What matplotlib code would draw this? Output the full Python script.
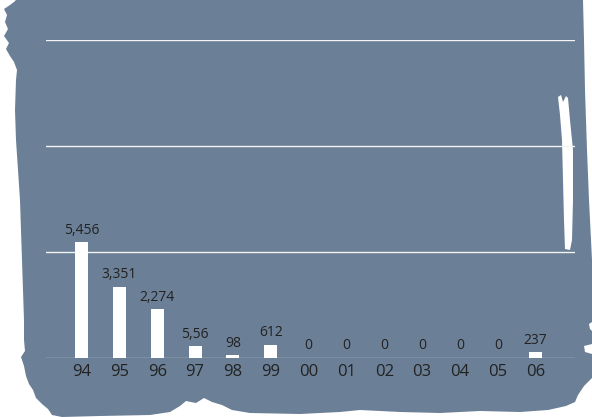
import matplotlib
matplotlib.use("Agg")
import matplotlib.pyplot as plt
from matplotlib.patches import Polygon

# Yearly counts
years = ["94", "95", "96", "97", "98", "99", "00", "01", "02", "03", "04", "05", "06"]
counts = [5456, 3351, 2274, 556, 98, 612, 0, 0, 0, 0, 0, 0, 237]
count_labels = ["5,456", "3,351", "2,274", "5,56", "98", "612",
                "0", "0", "0", "0", "0", "0", "237"]
y_ticks = [0, 5000, 10000, 15000]

W, H = 592, 417
BG = "#6b7f96"
INK = "#222222"

plt.rcParams["font.family"] = ["Open Sans", "DejaVu Sans"]

fig = plt.figure(figsize=(W / 100, H / 100), dpi=100)
fig.patch.set_facecolor("white")

# brush-stroke backdrop, outlined in pixel coordinates (origin top-left)
brush = [
    (16, 0), (583, 0), (584, 40), (585, 90), (587, 150), (589, 200), (591, 240),
    (592, 260), (592, 322), (589, 324), (590, 329), (592, 331), (592, 344),
    (584, 346), (585, 352), (592, 354), (592, 378), (584, 386), (578, 395),
    (575, 402), (566, 406), (548, 410), (520, 412), (480, 411), (440, 413),
    (400, 412), (360, 410), (340, 412), (300, 414), (250, 413), (232, 410),
    (222, 405), (212, 402), (204, 398), (196, 403), (186, 401), (180, 406),
    (170, 412), (150, 415), (100, 416), (62, 417), (52, 415), (48, 409),
    (42, 404), (36, 398), (33, 390), (29, 384), (26, 376), (24, 366),
    (21, 357), (25, 351), (24, 340), (24, 320), (23, 290), (22, 260),
    (21, 230), (20, 200), (18, 170), (16, 140), (15, 110), (16, 80),
    (17, 70), (14, 62), (10, 56), (6, 49), (9, 43), (4, 36), (8, 29),
    (5, 22), (7, 15), (4, 9), (10, 5), (14, 2),
]
fig.add_artist(Polygon([(x / W, 1 - y / H) for x, y in brush], closed=True,
                       transform=fig.transFigure, facecolor=BG, edgecolor="none",
                       zorder=-2))

# pale streak near the right edge of the stroke
streak = [(558, 97), (561, 95), (563, 102), (566, 96), (568, 98), (570, 120),
          (573, 150), (573, 200), (572, 240), (570, 250), (565, 249),
          (564, 220), (563, 180), (562, 140), (560, 115)]
fig.add_artist(Polygon([(x / W, 1 - y / H) for x, y in streak], closed=True,
                       transform=fig.transFigure, facecolor="white", edgecolor="none",
                       zorder=-1))

ax = fig.add_axes([46 / W, (H - 357.5) / H, (575 - 46) / W, (357.5 - 40) / H])
ax.patch.set_visible(False)

x = list(range(len(years)))
ax.set_xlim(-0.94, len(years) - 1 + 1.04)
ax.set_ylim(0, y_ticks[-1])

for t in y_ticks:
    ax.axhline(t, color="#c6cdd7" if t == 0 else "#f4f4f4", lw=1.0, zorder=1)

ax.bar(x, counts, width=0.345, color="white", zorder=2)

for xi, v, lab in zip(x, counts, count_labels):
    ax.annotate(lab, (xi, v), xytext=(0, 3.0), textcoords="offset points",
                ha="center", va="bottom", fontsize=10, color=INK)

ax.set_xticks(x)
ax.set_xticklabels(years, fontsize=12, color=INK)
ax.tick_params(axis="x", length=0, pad=4.5)
ax.set_yticks([])
for s in ax.spines.values():
    s.set_visible(False)

fig.savefig("out.png", dpi=100)
